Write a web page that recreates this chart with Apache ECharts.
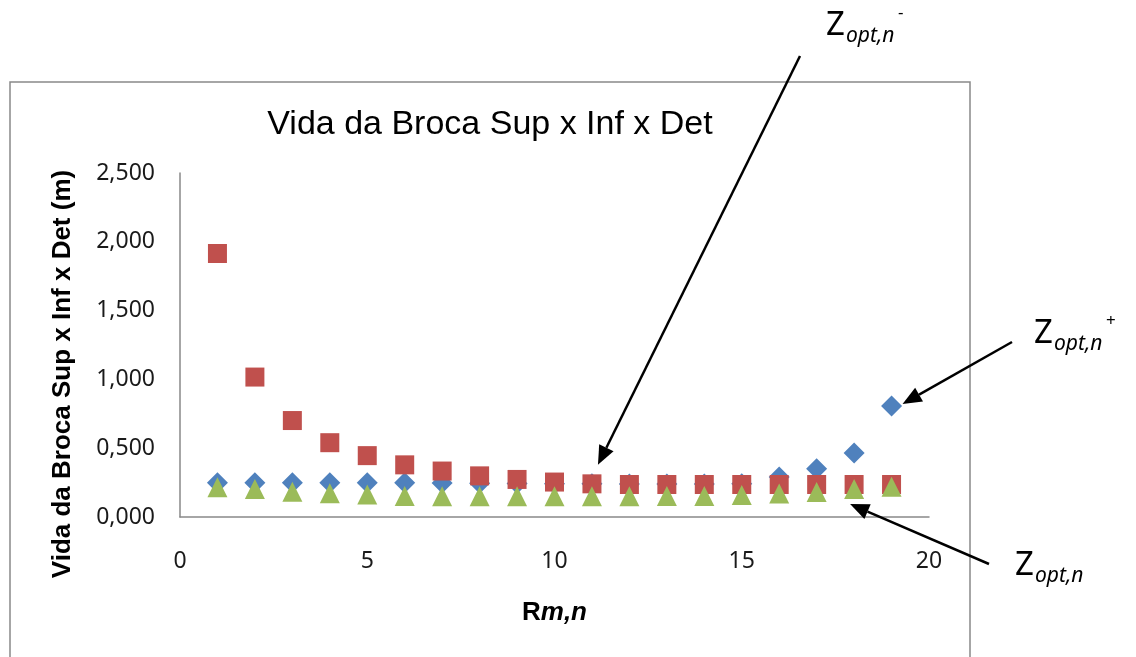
<!DOCTYPE html>
<html>
<head>
<meta charset="utf-8">
<script src="https://cdn.jsdelivr.net/npm/echarts@6/dist/echarts.min.js"></script>
<style>
  html, body { margin: 0; padding: 0; background: #fff; }
  #chart { width: 1136px; height: 657px; }
</style>
</head>
<body>
<div id="chart"></div>
<script>
// Bit life (m) against R(m,n) for the three bit positions
const rValues = [1, 2, 3, 4, 5, 6, 7, 8, 9, 10, 11, 12, 13, 14, 15, 16, 17, 18, 19];
const vidaSup = [0.249, 0.249, 0.249, 0.249, 0.249, 0.249, 0.247, 0.245, 0.243, 0.242, 0.241, 0.240, 0.240, 0.240, 0.241, 0.290, 0.350, 0.465, 0.807];
const vidaInf = [1.915, 1.017, 0.701, 0.540, 0.446, 0.379, 0.334, 0.299, 0.273, 0.254, 0.241, 0.236, 0.236, 0.236, 0.236, 0.236, 0.236, 0.236, 0.236];
const vidaDet = [0.217, 0.203, 0.184, 0.172, 0.163, 0.152, 0.151, 0.151, 0.151, 0.151, 0.151, 0.151, 0.152, 0.153, 0.160, 0.171, 0.182, 0.203, 0.220];
const yTicks = { min: 0, max: 2.5, step: 0.5 };
const xTicks = { min: 0, max: 20, step: 5 };

const pairs = (ys) => rValues.map((x, i) => [x, ys[i]]);
const fmtY = (v) => v.toFixed(3).replace('.', ',');

const chart = echarts.init(document.getElementById('chart'), null, { renderer: 'canvas' });

const axisGray = '#898989';
const tickFont = { fontFamily: 'Noto Sans', fontSize: 23, color: '#1a1a1a' };

chart.setOption({
  animation: false,
  backgroundColor: '#ffffff',
  title: {
    text: 'Vida da Broca Sup x Inf x Det',
    left: 485,
    top: 103,
    textAlign: 'center',
    textStyle: { fontFamily: 'Liberation Sans', fontSize: 34, fontWeight: 'normal', color: '#000' }
  },
  grid: { left: 180, top: 173, width: 749, height: 344, containLabel: false },
  xAxis: {
    type: 'value',
    min: xTicks.min, max: xTicks.max, interval: xTicks.step,
    splitLine: { show: false },
    axisTick: { show: false },
    axisLine: { show: true, onZero: false, lineStyle: { color: axisGray, width: 1.5 } },
    axisLabel: Object.assign({ margin: 33 }, tickFont),
    name: '{b|R}{bi|m,n}',
    nameLocation: 'middle',
    nameGap: 83,
    nameTextStyle: {
      rich: {
        b: { fontFamily: 'Liberation Sans', fontSize: 26, fontWeight: 'bold', color: '#000' },
        bi: { fontFamily: 'Liberation Sans', fontSize: 26, fontWeight: 'bold', fontStyle: 'italic', color: '#000' }
      }
    }
  },
  yAxis: {
    type: 'value',
    min: yTicks.min, max: yTicks.max, interval: yTicks.step,
    splitLine: { show: false },
    axisTick: { show: false },
    axisLine: { show: true, lineStyle: { color: axisGray, width: 1.5 } },
    axisLabel: Object.assign({ margin: 25, formatter: fmtY }, tickFont)
  },
  series: [
    {
      name: 'Sup', type: 'scatter', data: pairs(vidaSup),
      symbol: 'diamond', symbolSize: [21, 21],
      itemStyle: { color: '#4F81BD', opacity: 1 }, z: 2
    },
    {
      name: 'Inf', type: 'scatter', data: pairs(vidaInf),
      symbol: 'rect', symbolSize: 19,
      itemStyle: { color: '#C0504D', opacity: 1 }, z: 3
    },
    {
      name: 'Det', type: 'scatter', data: pairs(vidaDet),
      symbol: 'triangle', symbolSize: [20, 20],
      itemStyle: { color: '#9BBB59', opacity: 1 }, z: 4
    }
  ]
});

// Arrow from a free point to a spot next to a plotted point
function arrow(from, target, offset) {
  const p = chart.convertToPixel({ gridIndex: 0 }, target);
  const tip = [p[0] + offset[0], p[1] + offset[1]];
  const dx = tip[0] - from[0], dy = tip[1] - from[1];
  const len = Math.sqrt(dx * dx + dy * dy);
  const ux = dx / len, uy = dy / len;
  const headLen = 19, headHalf = 8;
  const base = [tip[0] - ux * headLen, tip[1] - uy * headLen];
  return [
    { type: 'line', shape: { x1: from[0], y1: from[1], x2: base[0], y2: base[1] },
      style: { stroke: '#000', lineWidth: 2.5 }, z: 20 },
    { type: 'polygon',
      shape: { points: [tip, [base[0] - uy * headHalf, base[1] + ux * headHalf], [base[0] + uy * headHalf, base[1] - ux * headHalf]] },
      style: { fill: '#000' }, z: 20 }
  ];
}

// Z_opt,n label with optional superscript
function zLabel(x, y, sup) {
  const els = [
    { type: 'text', x: x, y: y, style: { text: 'Z', fontFamily: 'Noto Sans', fontSize: 33, fill: '#000', verticalAlign: 'middle', align: 'left' }, z: 20 },
    { type: 'text', x: x + 20, y: y + 10, style: { text: 'opt,n', fontFamily: 'Noto Sans', fontSize: 21, fontStyle: 'italic', fill: '#000', verticalAlign: 'middle', align: 'left' }, z: 20 }
  ];
  if (sup) {
    els.push({ type: 'text', x: x + 72, y: y - 13, style: { text: sup, fontFamily: 'Noto Sans', fontSize: 17, fill: '#000', verticalAlign: 'middle', align: 'left' }, z: 20 });
  }
  return els;
}

const graphics = [
  { type: 'rect', shape: { x: 10, y: 82, width: 960, height: 640 },
    style: { fill: null, stroke: axisGray, lineWidth: 1.5 }, z: 1 },
  { type: 'text', x: 63, y: 374, rotation: Math.PI / 2,
    style: { text: 'Vida da Broca Sup x Inf x Det (m)', fontFamily: 'Liberation Sans', fontSize: 26, fontWeight: 'bold',
             fill: '#000', align: 'center', verticalAlign: 'middle' }, z: 10 }
]
  .concat(arrow([800, 56], [rValues[10], vidaInf[10]], [6, -19]))
  .concat(arrow([1012, 342], [rValues[18], vidaSup[18]], [11, -2]))
  .concat(arrow([989, 564], [rValues[17], vidaDet[17]], [-4, 15]))
  .concat(zLabel(826, 26, '-'))
  .concat(zLabel(1034, 334, '+'))
  .concat(zLabel(1015, 566, null));

chart.setOption({ graphic: graphics });
</script>
</body>
</html>
